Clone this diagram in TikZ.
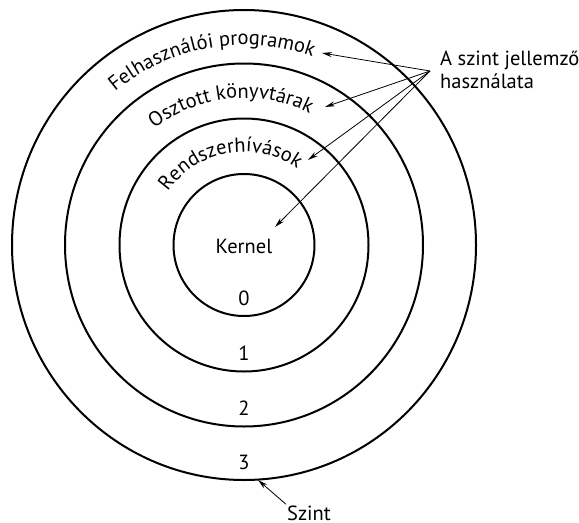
\documentclass[tikz,border=0pt]{standalone}
\usepackage{fontspec}
\setmainfont{PT Sans}
\usepackage{tikz}
\usetikzlibrary{shapes.geometric,arrows.meta,decorations.text}

\newcommand{\ringfont}{\fontsize{20.5bp}{23bp}\selectfont}

\tikzset{
  ring/.style={draw,ellipse,line width=2bp,inner sep=0pt},
  pointer/.style={->,line width=0.8bp},
  ringtext/.style={decorate,decoration={text along path,text align=center,text={|\ringfont|#1}}}
}

\begin{document}
\begin{tikzpicture}[>={Stealth[length=10bp,width=5bp]},every node/.style={font=\ringfont}]
    \useasboundingbox (0bp,0bp) rectangle (579bp,-523bp);
    % the four levels
    \node (ring0) at (244bp,-245bp)[ring,minimum width=141bp,minimum height=142bp] {};
    \node (ring1) at (244bp,-245bp)[ring,minimum width=249bp,minimum height=253bp] {};
    \node (ring2) at (244bp,-245bp)[ring,minimum width=358bp,minimum height=363bp] {};
    \node (ring3) at (244bp,-245bp)[ring,minimum width=464bp,minimum height=470bp] {};
    \node (kernel) at (244bp,-246bp) {Kernel};
    \node (n0) at (244bp,-298bp) {0};
    \node (n1) at (244bp,-353bp) {1};
    \node (n2) at (244bp,-408bp) {2};
    \node (n3) at (244bp,-462bp) {3};
    % names written round the rings
    \path[ringtext={Felhasználói programok}] (244bp,-245bp) ++(170:200bp) arc[start angle=170,end angle=30,radius=200bp];
    \path[ringtext={Osztott könyvtárak}] (244bp,-245bp) ++(165.5:147bp) arc[start angle=165.5,end angle=25.5,radius=147bp];
    \path[ringtext={Rendszerhívások}] (244bp,-245bp) ++(180:93bp) arc[start angle=180,end angle=20,radius=93bp];
    % usage label and its pointers
    \node (use) at (440bp,-88bp)[anchor=base west,align=left,inner sep=0pt] {A szint jellemző\\használata};
    \coordinate (src) at (430bp,-71bp);
    \coordinate (tF) at (322bp,-53bp);
    \coordinate (tO) at (325bp,-107bp);
    \coordinate (tR) at (308bp,-160bp);
    \coordinate (tK) at (275bp,-227bp);
    \draw[pointer] (src) -- (tF);
    \draw[pointer] (src) -- (tO);
    \draw[pointer] (src) -- (tR);
    \draw[pointer] (src) -- (tK);
    % level label
    \node (szint) at (309bp,-520bp)[anchor=base,inner sep=1bp] {Szint};
    \coordinate (lvl) at (258bp,-480bp);
    \draw[pointer] (szint.north west) -- (lvl);
\end{tikzpicture}
\end{document}
